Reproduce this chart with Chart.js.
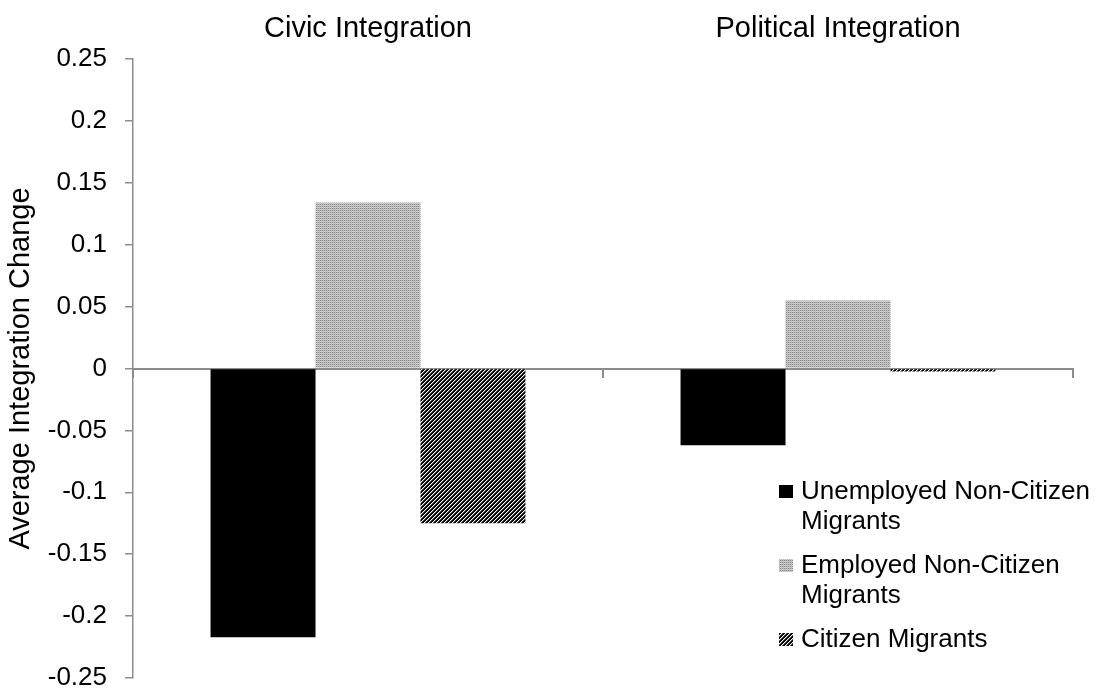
<!DOCTYPE html>
<html>
<head>
<meta charset="utf-8">
<script src="https://cdn.jsdelivr.net/npm/chart.js@4"></script>
<style>
  body { margin: 0; background: #fff; }
  #wrap { width: 1097px; height: 692px; }
</style>
</head>
<body>
<div id="wrap"><canvas id="chart" width="1097" height="692"></canvas></div>
<script>
const categories = ['Civic Integration', 'Political Integration'];
const seriesNames = ['Unemployed Non-Citizen Migrants', 'Employed Non-Citizen Migrants', 'Citizen Migrants'];
const unemployed = [-0.217, -0.062];
const employed = [0.134, 0.055];
const citizen = [-0.125, -0.0025];
const yTicks = { min: -0.25, max: 0.25, step: 0.05 };

const FONT = "'Liberation Sans', Arial, Helvetica, sans-serif";
const AXIS_GRAY = '#8c8c8c';

// small repeating tiles for the two textured bar fills
function makePattern(size, paint) {
  const c = document.createElement('canvas');
  c.width = size; c.height = size;
  const g = c.getContext('2d');
  for (let y = 0; y < size; y++) {
    for (let x = 0; x < size; x++) {
      g.fillStyle = paint(x, y);
      g.fillRect(x, y, 1, 1);
    }
  }
  return g.createPattern(c, 'repeat');
}
const lightFill = makePattern(4, (x, y) => {
  if (x % 2 === 0) return (y % 2 === 0) ? '#868686' : '#d6d6d6';
  return '#bdbdbd';
});
const darkFill = makePattern(4, (x, y) => ((x + y) % 4 < 2 ? '#000' : ((x + y) % 4 === 2 ? '#fff' : '#5a5a5a')));

const fills = ['#000', lightFill, darkFill];
const values = [unemployed, employed, citizen];

// legend drawn inside the plot, lower right, with wrapped labels
const legendBox = {
  id: 'legendBox',
  afterDraw(chart) {
    const ctx = chart.ctx;
    const area = chart.chartArea;
    const x0 = area.right - 294;
    let y = area.bottom - 187;
    ctx.save();
    ctx.font = '26px ' + FONT;
    ctx.textBaseline = 'middle';
    chart.data.datasets.forEach(ds => {
      const words = ds.label.split(' ');
      const lines = [];
      let cur = '';
      words.forEach(w => {
        const test = cur ? cur + ' ' + w : w;
        if (ctx.measureText(test).width > 300 && cur) { lines.push(cur); cur = w; }
        else cur = test;
      });
      lines.push(cur);
      ctx.fillStyle = ds.backgroundColor;
      ctx.fillRect(x0, y - 6, 14, 13);
      ctx.fillStyle = '#000';
      lines.forEach((ln, i) => ctx.fillText(ln, x0 + 22, y + i * 30 + 1));
      y += (lines.length - 1) * 30 + 44;
    });
    ctx.restore();
  }
};

new Chart(document.getElementById('chart'), {
  type: 'bar',
  data: {
    labels: categories,
    datasets: seriesNames.map((name, i) => ({
      label: name,
      data: values[i],
      backgroundColor: fills[i],
      borderWidth: 0,
      categoryPercentage: 0.67,
      barPercentage: 1.0,
      xAxisID: 'x',
      yAxisID: 'y'
    }))
  },
  options: {
    responsive: false,
    animation: false,
    layout: { padding: { left: 0, top: 0, right: 24, bottom: 14 } },
    plugins: { legend: { display: false }, tooltip: { enabled: false } },
    scales: {
      x: {
        type: 'category',
        position: 'top',
        grid: { display: false },
        border: { display: false },
        ticks: { color: '#000', font: { family: FONT, size: 29 }, padding: 5 },
        afterFit(scale) { scale.height = 59; }
      },
      xz: {
        type: 'category',
        labels: categories,
        position: { y: 0 },
        z: 1,
        offset: true,
        grid: { display: true, drawOnChartArea: false, offset: true, tickLength: 8, color: AXIS_GRAY, lineWidth: 2 },
        border: { display: true, color: AXIS_GRAY, width: 2 },
        ticks: { display: false }
      },
      y: {
        position: 'left',
        min: yTicks.min,
        max: yTicks.max,
        ticks: {
          stepSize: yTicks.step,
          color: '#000',
          padding: 18,
          font: { family: FONT, size: 26 },
          callback: v => String(Math.round(v * 100) / 100)
        },
        grid: { display: true, drawOnChartArea: false, tickLength: 8, color: AXIS_GRAY, lineWidth: 1.5 },
        border: { display: true, color: AXIS_GRAY, width: 1.5 },
        title: {
          display: true,
          text: 'Average Integration Change',
          color: '#000',
          font: { family: FONT, size: 29 },
          padding: { top: 4, bottom: 0 }
        },
        afterFit(scale) {
          scale.width = 133;
          scale.paddingTop = 0;
          scale.paddingBottom = 0;
        }
      }
    }
  },
  plugins: [legendBox]
});
</script>
</body>
</html>
